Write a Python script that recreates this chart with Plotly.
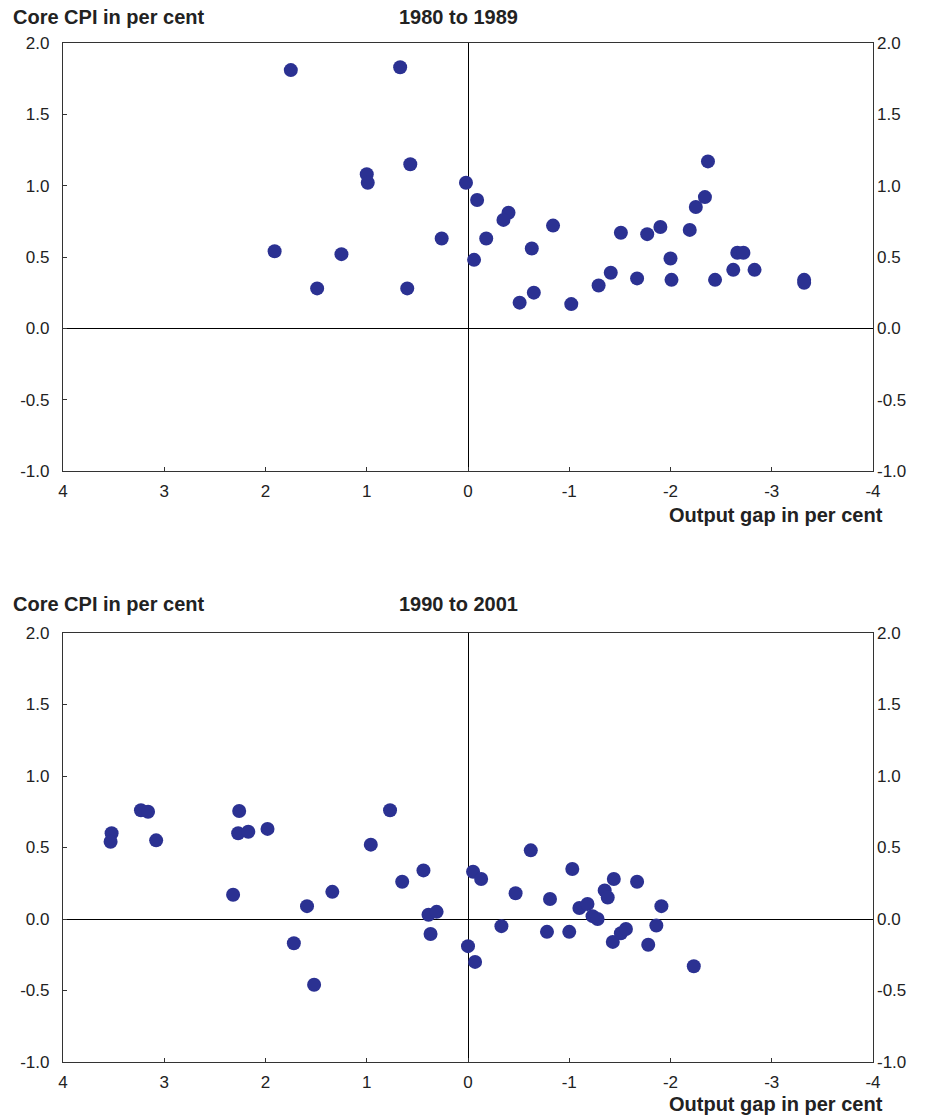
import plotly.graph_objects as go

# ---- data: panel 1 (1980 to 1989)
gap_80s = [1.75, 0.67, 1.00, 0.99, 0.57, 1.91, 1.25, 1.49, 0.60, 0.26, 0.02,
           -0.09, -0.40, -0.35, -0.18, -0.06, -0.63, -0.84, -0.51, -0.65, -1.02,
           -1.29, -1.41, -1.51, -1.67, -1.77, -1.90, -2.00, -2.01, -2.19, -2.25,
           -2.34, -2.37, -2.44, -2.62, -2.66, -2.72, -2.83, -3.32, -3.32]
cpi_80s = [1.81, 1.83, 1.08, 1.02, 1.15, 0.54, 0.52, 0.28, 0.28, 0.63, 1.02,
           0.90, 0.81, 0.76, 0.63, 0.48, 0.56, 0.72, 0.18, 0.25, 0.17,
           0.30, 0.39, 0.67, 0.35, 0.66, 0.71, 0.49, 0.34, 0.69, 0.85,
           0.92, 1.17, 0.34, 0.41, 0.53, 0.53, 0.41, 0.34, 0.32]

# ---- data: panel 2 (1990 to 2001)
gap_90s = [3.52, 3.53, 3.23, 3.16, 3.08, 2.26, 2.27, 2.17, 1.98, 0.96, 0.77,
           2.32, 1.59, 1.72, 1.52, 1.34, 0.65, 0.44, 0.39, 0.31, 0.37,
           0.00, -0.07, -0.05, -0.13, -0.33, -0.47, -0.62, -0.78, -0.81, -1.00,
           -1.03, -1.10, -1.18, -1.23, -1.28, -1.35, -1.38, -1.44, -1.43, -1.51,
           -1.56, -1.67, -1.78, -1.86, -1.91, -2.23]
cpi_90s = [0.60, 0.54, 0.76, 0.75, 0.55, 0.755, 0.60, 0.61, 0.63, 0.52, 0.76,
           0.17, 0.09, -0.17, -0.46, 0.19, 0.26, 0.34, 0.03, 0.05, -0.105,
           -0.19, -0.30, 0.33, 0.28, -0.05, 0.18, 0.48, -0.09, 0.14, -0.09,
           0.35, 0.077, 0.105, 0.02, 0.00, 0.20, 0.15, 0.28, -0.16, -0.10,
           -0.07, 0.26, -0.18, -0.045, 0.09, -0.33]

x_ticks = [4, 3, 2, 1, 0, -1, -2, -3, -4]
y_ticks = [-1.0, -0.5, 0.0, 0.5, 1.0, 1.5, 2.0]
y_labels = ["-1.0", "-0.5", "0.0", "0.5", "1.0", "1.5", "2.0"]
titles = ["1980 to 1989", "1990 to 2001"]
y_title = "Core CPI in per cent"
x_title = "Output gap in per cent"

MARK = "#2B3192"
FONT = "Liberation Sans, Arial, sans-serif"
TICKC = "#222222"
LINEC = "#333333"

fig = go.Figure()
fig.add_trace(go.Scatter(x=gap_80s, y=cpi_80s, mode="markers", xaxis="x", yaxis="y",
                         marker=dict(color=MARK, size=14, line=dict(width=0)),
                         showlegend=False, hoverinfo="x+y"))
fig.add_trace(go.Scatter(x=gap_90s, y=cpi_90s, mode="markers", xaxis="x2", yaxis="y2",
                         marker=dict(color=MARK, size=14, line=dict(width=0)),
                         showlegend=False, hoverinfo="x+y"))

# page body has an 8px default margin: figure drawn from (8, 8)
OFF = 8
W = 926 - OFF
H = 1119 - OFF
ml, mr, mt, mb = 60 - OFF, 53, 43 - OFF, 57
ph = 1119 - 43 - 57


def py(pix):
    return (1119 - mb - pix) / ph


def px(pix):
    return (pix - 60) / (926 - 60 - mr)


dom1 = [py(471), py(43)]
dom2 = [py(1062), py(633)]

TF = dict(family=FONT, size=17, color=TICKC)
xcommon = dict(range=[4, -4], tickvals=x_ticks, ticktext=[str(v) for v in x_ticks],
               showgrid=False, zeroline=True, zerolinecolor="#000000", zerolinewidth=1,
               showline=True, linecolor=LINEC, linewidth=1.3, mirror=True,
               ticks="inside", ticklen=4, tickcolor=LINEC, ticklabelstandoff=4,
               tickfont=TF, fixedrange=True)
ycommon = dict(range=[-1, 2], tickvals=y_ticks, ticktext=y_labels,
               showgrid=False, zeroline=True, zerolinecolor="#000000", zerolinewidth=1,
               showline=True, linecolor=LINEC, linewidth=1.3, mirror=True,
               ticks="inside", ticklen=4, tickcolor=LINEC, ticklabelstandoff=9,
               tickfont=TF, fixedrange=True)
yright = dict(range=[-1, 2], tickvals=y_ticks, ticktext=y_labels, side="right",
              showgrid=False, zeroline=False, showline=False, ticklabelstandoff=3,
              ticks="", tickfont=TF, fixedrange=True)

fig.update_layout(
    width=W, height=H,
    margin=dict(l=ml, r=mr, t=mt, b=mb),
    paper_bgcolor="white", plot_bgcolor="white",
    xaxis=dict(domain=[0, 1], anchor="y", **xcommon),
    yaxis=dict(domain=dom1, anchor="x", **ycommon),
    xaxis2=dict(domain=[0, 1], anchor="y2", **xcommon),
    yaxis2=dict(domain=dom2, anchor="x2", **ycommon),
    yaxis3=dict(domain=dom1, anchor="x", overlaying="y", **yright),
    yaxis4=dict(domain=dom2, anchor="x2", overlaying="y2", **yright),
)
fig.add_trace(go.Scatter(x=[None], y=[None], xaxis="x", yaxis="y3", showlegend=False))
fig.add_trace(go.Scatter(x=[None], y=[None], xaxis="x2", yaxis="y4", showlegend=False))

bold = dict(family=FONT, size=20, color="#222222")
ann = []
for ytop, title in [(17, titles[0]), (604, titles[1])]:
    ann.append(dict(text="<b>" + y_title + "</b>", x=px(8), y=py(ytop), xref="paper", yref="paper",
                    xanchor="left", yanchor="middle", showarrow=False, font=bold))
    ann.append(dict(text="<b>" + title + "</b>", x=px(457), y=py(ytop), xref="paper", yref="paper",
                    xanchor="center", yanchor="middle", showarrow=False, font=bold))
for yb in (515, 1104):
    ann.append(dict(text="<b>" + x_title + "</b>", x=px(885), y=py(yb), xref="paper", yref="paper",
                    xanchor="right", yanchor="middle", showarrow=False, font=bold))
fig.update_layout(annotations=ann)

fig.write_html("out.html")
